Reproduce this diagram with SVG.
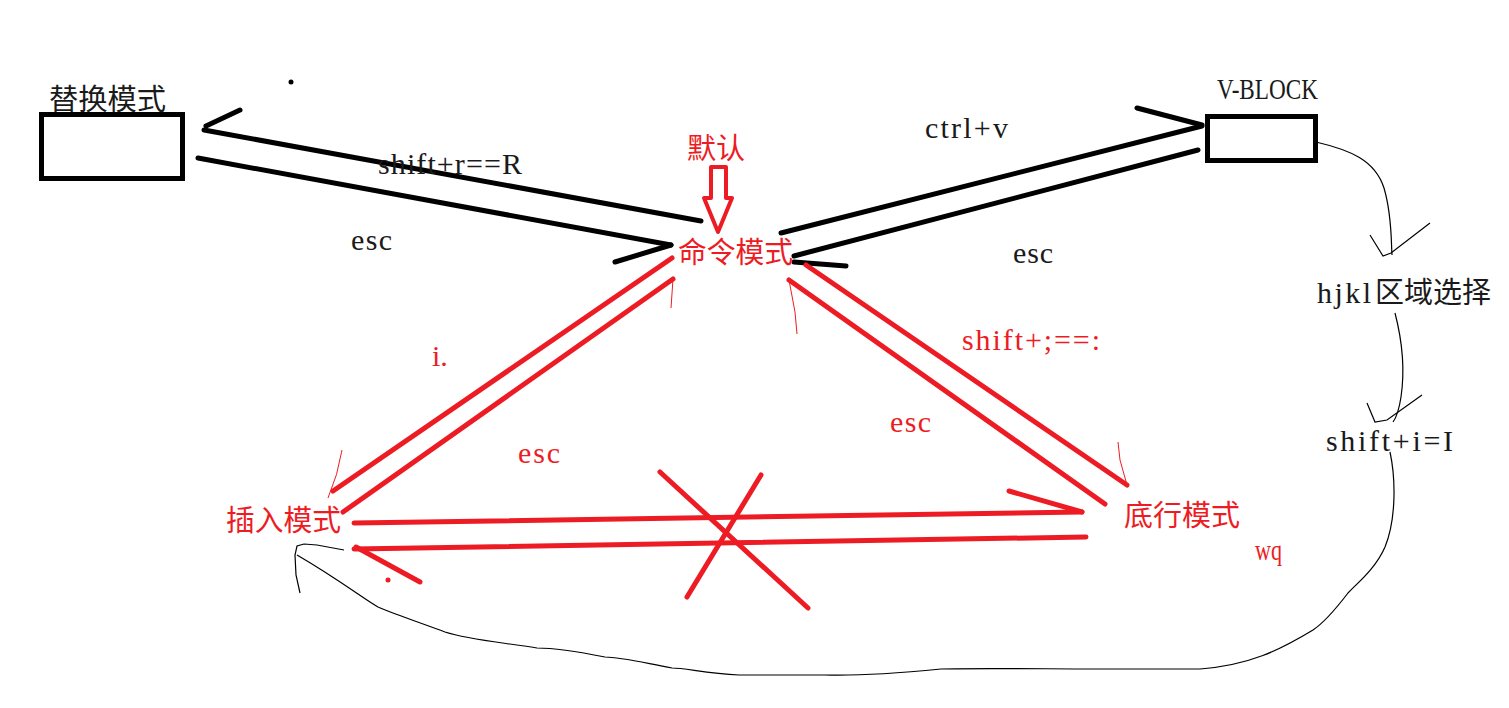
<svg xmlns="http://www.w3.org/2000/svg" width="1509" height="708" viewBox="0 0 1509 708">
<style>
.bk{stroke:#000;stroke-width:5;stroke-linecap:round;fill:none}
.rd{stroke:#ed1c24;stroke-width:5;stroke-linecap:round;fill:none}
.tr{stroke:#ed1c24;stroke-width:1;fill:none}
.tb{stroke:#000;stroke-width:1.2;fill:none}
.cj{font-family:"Noto Sans CJK SC","Noto Sans",sans-serif;font-size:29px}
.sf{font-family:"Liberation Serif",serif;font-size:30px}
.red{fill:#ed1c24}
.blk{fill:#1a1a1a}
</style>
<rect width="1509" height="708" fill="#fff"/>
<g id="connectors">
  <line class="bk" x1="204" y1="130" x2="701" y2="221"/>
  <line class="bk" x1="206" y1="126" x2="240" y2="110"/>
  <line class="bk" x1="198" y1="158" x2="671" y2="245"/>
  <line class="bk" x1="615" y1="262" x2="671" y2="245"/>
  <line class="bk" x1="781" y1="233" x2="1202" y2="126"/>
  <line class="bk" x1="1137" y1="108" x2="1202" y2="125"/>
  <line class="bk" x1="1198" y1="150" x2="794" y2="256"/>
  <line class="bk" x1="794" y1="262" x2="846" y2="266"/>
  <polygon points="711,167 726,167 726,198 732,198 718,232 704,198 711,198" fill="none" stroke="#ed1c24" stroke-width="4" stroke-linejoin="round"/>
  <line class="rd" x1="672" y1="258" x2="333" y2="491"/>
  <path class="tr" d="M342,450 Q338,475 328,498"/>
  <line class="rd" x1="673" y1="279" x2="343" y2="512"/>
  <path class="tr" d="M673,279 L671,308"/>
  <line class="rd" x1="806" y1="265" x2="1127" y2="485"/>
  <path class="tr" d="M1118,442 L1120,460 L1127,485"/>
  <line class="rd" x1="789" y1="280" x2="1105" y2="504"/>
  <path class="tr" d="M789,280 L795,312 L797,334"/>
  <line class="rd" x1="354" y1="523" x2="1082" y2="512"/>
  <line class="rd" x1="1009" y1="491" x2="1082" y2="512"/>
  <line class="rd" x1="1086" y1="537" x2="354" y2="549"/>
  <line class="rd" x1="356" y1="547" x2="420" y2="582"/>
  <circle cx="388" cy="580" r="2.5" fill="#ed1c24"/>
  <line class="rd" x1="660" y1="472" x2="808" y2="608"/>
  <line class="rd" x1="687" y1="597" x2="761" y2="475"/>
  <path class="tb" d="M1316,142 C1350,150 1375,160 1384,188 C1392,215 1391,240 1392,255"/>
  <polyline class="tb" points="1370,235 1383,256 1391,253 1430,223"/>
  <path class="tb" d="M1395,313 C1402,340 1405,370 1401,397 C1399,410 1396,418 1393,422"/>
  <polyline class="tb" points="1367,403 1375,422 1387,420 1422,395"/>
  <path class="tb" d="M1390,452 C1396,480 1396,520 1385,547 C1375,570 1355,585 1348,593 C1335,610 1325,622 1313,630 C1280,650 1250,665 1200,669 L1107,669 C1050,669 980,668 941,669 C900,673 860,676 825,675 L739,675 C705,673 685,668 672,668 C640,662 620,657 605,657 C575,651 555,648 537,648 C500,642 470,640 445,632 C415,621 392,613 378,607 C365,600 340,580 297,555"/>
  <polyline class="tb" points="344,550 317,545 304,544 297,546 295,555 296,575 300,593"/>
  <circle cx="291" cy="82" r="2.5" fill="#000"/>
</g>
<g id="node-replace">
  <rect x="41.5" y="114.5" width="141" height="64" fill="none" stroke="#000" stroke-width="5"/>
  <text class="cj blk" x="49" y="110" textLength="117" lengthAdjust="spacingAndGlyphs">替换模式</text>
</g>
<g id="node-vblock">
  <rect x="1207.5" y="116.5" width="108" height="44" fill="none" stroke="#000" stroke-width="5"/>
  <text class="sf blk" x="1217" y="99" textLength="101" lengthAdjust="spacingAndGlyphs" font-size="27">V-BLOCK</text>
</g>
<g id="node-default">
  <text class="cj red" x="687" y="159">默认</text>
</g>
<g id="node-command">
  <text class="cj red" x="678" y="263" textLength="115" lengthAdjust="spacingAndGlyphs">命令模式</text>
</g>
<g id="node-insert">
  <text class="cj red" x="226" y="531" textLength="115" lengthAdjust="spacingAndGlyphs">插入模式</text>
</g>
<g id="node-bottomline">
  <text class="cj red" x="1124" y="526" textLength="116" lengthAdjust="spacingAndGlyphs">底行模式</text>
</g>
<g id="node-hjkl">
  <text class="blk" x="1317" y="303"><tspan class="sf" font-size="27" textLength="54" lengthAdjust="spacing">hjkl</tspan><tspan class="cj" x="1375">区域选择</tspan></text>
</g>
<g id="node-shifti">
  <text class="sf blk" x="1326" y="451" textLength="127" lengthAdjust="spacing" font-size="28">shift+i=I</text>
</g>
<g id="labels">
  <text class="sf blk" x="378" y="174" textLength="144" lengthAdjust="spacing">shift+r==R</text>
  <text class="sf blk" x="351" y="250" textLength="41" lengthAdjust="spacing" font-size="27">esc</text>
  <text class="sf blk" x="925" y="138" textLength="83" lengthAdjust="spacing" font-size="27">ctrl+v</text>
  <text class="sf blk" x="1013" y="263" textLength="40" lengthAdjust="spacing" font-size="27">esc</text>
  <text class="sf red" x="962" y="350" textLength="138" lengthAdjust="spacing" font-size="27">shift+;==:</text>
  <text class="sf red" x="432" y="366" font-size="27">i.</text>
  <text class="sf red" x="518" y="463" textLength="42" lengthAdjust="spacing" font-size="27">esc</text>
  <text class="sf red" x="890" y="432" textLength="41" lengthAdjust="spacing" font-size="27">esc</text>
  <text class="sf red" x="1255" y="560" font-size="22" textLength="27" lengthAdjust="spacingAndGlyphs">wq</text>
</g>
</svg>
